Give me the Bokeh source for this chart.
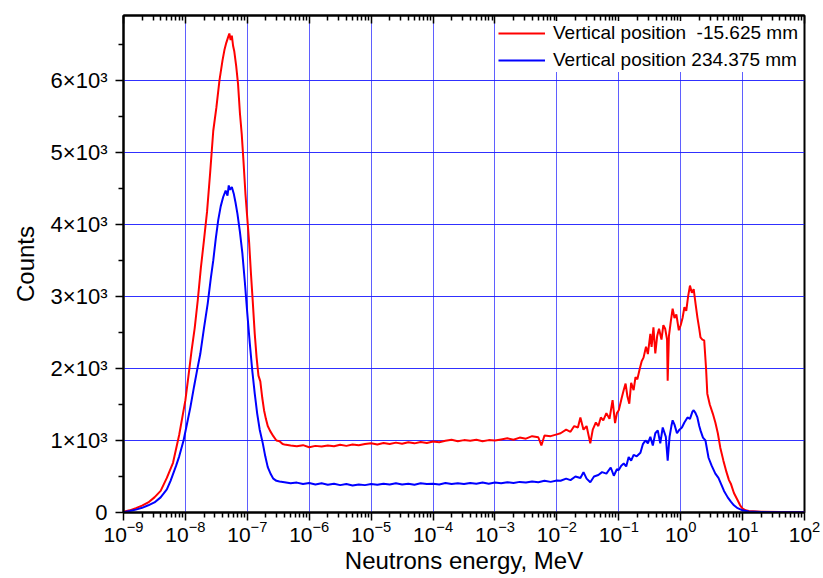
from bokeh.plotting import figure
from bokeh.models import (Range1d, FixedTicker, LogAxis, CustomJSTickFormatter,
                          Legend, LegendItem, ColumnDataSource)
from bokeh.embed import file_html
from bokeh.resources import INLINE

# ---------------- data (log10 of energy in MeV, counts) ----------------
red_log_e = [-9.0, -8.9, -8.8, -8.7, -8.6, -8.5, -8.4, -8.3, -8.2, -8.1, -8.0,
             -7.95, -7.9, -7.85, -7.8, -7.75, -7.7, -7.65, -7.6, -7.55, -7.5,
             -7.45, -7.4, -7.37, -7.34, -7.31, -7.29, -7.27, -7.25, -7.23, -7.21,
             -7.18, -7.15, -7.12, -7.09, -7.06, -7.03, -7.0, -6.97, -6.94, -6.91,
             -6.88, -6.85, -6.82, -6.79, -6.76, -6.73, -6.70, -6.67, -6.63, -6.58,
             -6.53, -6.48, -6.43,
             -6.4, -6.3, -6.2, -6.1, -6.0, -5.9, -5.8, -5.7, -5.6, -5.5, -5.4, -5.3,
             -5.2, -5.1, -5.0, -4.9, -4.8, -4.7, -4.6, -4.5, -4.4, -4.3, -4.2, -4.1,
             -4.0, -3.9, -3.8, -3.7, -3.6, -3.5, -3.4, -3.3, -3.2, -3.1, -3.0, -2.9,
             -2.8, -2.7, -2.6, -2.5, -2.4, -2.3, -2.25, -2.2, -2.1, -2.0,
             -1.94, -1.85, -1.78, -1.72, -1.66, -1.62, -1.57, -1.52, -1.46, -1.42,
             -1.37, -1.33, -1.29, -1.25, -1.2, -1.15, -1.1, -1.06, -1.03, -1.0,
             -0.95, -0.92, -0.89, -0.86, -0.83, -0.80, -0.76, -0.73, -0.70, -0.66,
             -0.63, -0.60, -0.56, -0.53, -0.49, -0.47, -0.44, -0.41, -0.38, -0.35,
             -0.31, -0.28, -0.25, -0.22, -0.21, -0.19, -0.16, -0.13, -0.10, -0.07,
             -0.03, 0.0, 0.03, 0.06, 0.09, 0.12, 0.15, 0.18, 0.21, 0.24,
             0.27, 0.30, 0.32, 0.35, 0.38, 0.41, 0.43, 0.47, 0.52, 0.56,
             0.60, 0.64, 0.69, 0.74, 0.78, 0.81, 0.86, 0.92, 0.96, 1.0,
             1.05, 1.1, 1.3, 1.6, 2.0]
red_counts = [10, 30, 60, 95, 140, 210, 300, 480, 690, 1080, 1560,
              1900, 2250, 2560, 2950, 3400, 3780, 4180, 4720, 5300, 5620,
              6000, 6280, 6420, 6520, 6600, 6650, 6560, 6620, 6480, 6400,
              6200, 5950, 5550, 5250, 4850, 4420, 4080, 3740, 3300, 2900,
              2480, 2150, 1900, 1820, 1600, 1420, 1300, 1200, 1130, 1060,
              1000, 990, 950,
              945, 930, 920, 935, 905, 925, 915, 930, 920, 940, 925, 945,
              935, 950, 960, 945, 965, 950, 970, 955, 975, 960, 980, 965,
              985, 975, 995, 1010, 990, 1005, 995, 1010, 990, 1005, 1000, 1015,
              1030, 1010, 1040, 1025, 1060, 1045, 930, 1070, 1060, 1085,
              1100, 1150, 1120, 1200, 1180, 1320, 1150, 1200, 960, 1150,
              1250, 1200, 1320, 1280, 1380, 1300, 1560, 1240, 1380, 1420,
              1600, 1700, 1790, 1610, 1510, 1800, 1700, 1880, 1850, 2000,
              2100, 2150, 2300, 2200, 2480, 2300, 2570, 2210, 2450, 2550,
              2400, 2600, 2550, 2400, 1830, 2450, 2650, 2830, 2700, 2750,
              2530, 2600, 2700, 2850, 2800, 3000, 3150, 3050, 3100, 2900,
              2710, 2550, 2430, 2400, 2390, 2000, 1650, 1500, 1370, 1250,
              1100, 900, 720, 560, 450, 400, 270, 170, 100, 55,
              30, 20, 12, 8, 5]

blue_log_e = [-9.0, -8.9, -8.8, -8.7, -8.6, -8.5, -8.4, -8.3, -8.24, -8.15, -8.1,
              -8.03, -7.97, -7.92, -7.86, -7.81, -7.76, -7.7, -7.64, -7.59, -7.55,
              -7.51, -7.47, -7.43, -7.39, -7.35, -7.32, -7.30, -7.28, -7.25, -7.22,
              -7.19, -7.16, -7.12, -7.08, -7.04, -7.0, -6.96, -6.92, -6.88, -6.84,
              -6.80, -6.75, -6.71, -6.67, -6.62, -6.58, -6.53, -6.48,
              -6.4, -6.3, -6.2, -6.1, -6.0, -5.9, -5.8, -5.7, -5.6, -5.5, -5.4, -5.3,
              -5.2, -5.1, -5.0, -4.9, -4.8, -4.7, -4.6, -4.5, -4.4, -4.3, -4.2, -4.1,
              -4.0, -3.9, -3.8, -3.7, -3.6, -3.5, -3.4, -3.3, -3.2, -3.1, -3.0, -2.9,
              -2.8, -2.7, -2.6, -2.5, -2.4, -2.3, -2.2, -2.1, -2.0,
              -1.94, -1.85, -1.78, -1.7, -1.62, -1.57, -1.52, -1.46, -1.4, -1.33,
              -1.27, -1.2, -1.13, -1.08, -1.03, -1.0, -0.96, -0.92, -0.88, -0.84,
              -0.80, -0.76, -0.71, -0.65, -0.61, -0.57, -0.53, -0.49, -0.45, -0.41,
              -0.37, -0.33, -0.29, -0.24, -0.21, -0.18, -0.15, -0.13, -0.10, -0.06,
              -0.02, 0.02, 0.06, 0.11, 0.15, 0.19, 0.21, 0.24, 0.27, 0.30,
              0.32, 0.36, 0.40, 0.45, 0.50, 0.56, 0.61, 0.65, 0.70, 0.76,
              0.81, 0.86, 0.92, 1.0, 1.1, 1.3, 1.6, 2.0]
blue_counts = [5, 20, 40, 65, 100, 140, 210, 320, 440, 650, 780,
               1000, 1250, 1460, 1750, 1980, 2200, 2560, 2900, 3250, 3500,
               3800, 4060, 4250, 4380, 4470, 4400, 4540, 4480, 4520, 4430,
               4300, 4150, 3900, 3600, 3200, 2760, 2350, 1970, 1650, 1370,
               1150, 960, 780, 630, 530, 470, 440, 430,
               420, 405, 415, 395, 410, 390, 405, 385, 400, 380, 395, 375,
               390, 380, 395, 385, 400, 390, 405, 390, 400, 385, 405, 395,
               400, 390, 410, 395, 405, 395, 410, 400, 415, 400, 415, 405,
               420, 410, 425, 415, 430, 420, 440, 425, 445,
               440, 470, 450, 500, 480, 560, 470, 420, 500, 520,
               560, 540, 625, 510, 600, 590, 650, 680, 640, 770,
               720, 800, 780, 830, 950, 1000, 960, 1050, 930, 1100,
               1140, 960, 1180, 1050, 720, 1050, 1200, 1280, 1220, 1100,
               1150, 1180, 1250, 1320, 1300, 1400, 1420, 1380, 1320, 1200,
               1140, 1040, 1000, 760, 650, 540, 480, 400, 300, 210,
               150, 100, 60, 30, 15, 8, 5, 3]

x_major_exponents = list(range(-9, 3))
y_major_ticks = [0, 1000, 2000, 3000, 4000, 5000, 6000]
y_minor_ticks = [500, 1500, 2500, 3500, 4500, 5500, 6500]
series_labels = ["Vertical position  -15.625 mm", "Vertical position 234.375 mm"]
x_title = "Neutrons energy, MeV"
y_title = "Counts"

# ---------------- figure ----------------
FONT = "Liberation Sans"

p = figure(width=823, height=578, x_axis_type="log",
           x_range=Range1d(1e-9, 1e2), y_range=Range1d(0, 6900),
           output_backend="svg", toolbar_location=None,
           min_border_left=123, min_border_right=19, min_border_top=15,
           min_border_bottom=66)
p.background_fill_color = "white"
p.border_fill_color = "white"
p.outline_line_color = "black"
p.outline_line_width = 2

x_major = [10.0 ** e for e in x_major_exponents]
x_minor = [m * 10.0 ** e for e in x_major_exponents[:-1] for m in range(2, 10)]
xticker = FixedTicker(ticks=x_major, minor_ticks=x_minor)

xa = p.xaxis[0]
xa.ticker = xticker
xa.axis_label = x_title
ya = p.yaxis[0]
ya.ticker = FixedTicker(ticks=y_major_ticks, minor_ticks=y_minor_ticks)
ya.formatter = CustomJSTickFormatter(
    code="return tick == 0 ? '0' : (tick/1000).toFixed(0) + '\u00d710\u00b3';")
ya.axis_label = y_title

for ax in (xa, ya):
    ax.axis_line_color = "black"
    ax.axis_line_width = 2
    ax.major_tick_line_color = "black"
    ax.minor_tick_line_color = "black"
    ax.major_tick_line_width = 1.5
    ax.minor_tick_line_width = 1.5
    ax.major_tick_in = 0
    ax.major_tick_out = 8
    ax.minor_tick_in = 0
    ax.minor_tick_out = 5
    ax.major_label_text_font = FONT
    ax.major_label_text_color = "black"
    ax.axis_label_text_font = FONT
    ax.axis_label_text_font_size = "24px"
    ax.axis_label_text_font_style = "normal"
    ax.axis_label_text_color = "black"
xa.major_label_text_font_size = "21px"
ya.major_label_text_font_size = "22px"
xa.major_label_standoff = 0
xa.axis_label_standoff = 2
ya.major_label_standoff = 8
ya.axis_label_standoff = 9

top = LogAxis(ticker=xticker, formatter=CustomJSTickFormatter(code="return '';"),
              axis_line_color="black", axis_line_width=2,
              major_tick_in=8, major_tick_out=0, minor_tick_in=5, minor_tick_out=0,
              major_tick_line_color="black", minor_tick_line_color="black",
              major_tick_line_width=1.5, minor_tick_line_width=1.5,
              major_label_standoff=0, major_label_text_font_size="1px")
p.add_layout(top, "above")

p.xgrid.grid_line_color = "#2a2aff"
p.xgrid.grid_line_alpha = 0.75
p.ygrid.grid_line_color = "#1a1aff"
p.ygrid.grid_line_alpha = 0.9
p.xgrid.grid_line_width = 1
p.ygrid.grid_line_width = 1

red_src = ColumnDataSource(dict(x=[10.0 ** v for v in red_log_e], y=red_counts))
blue_src = ColumnDataSource(dict(x=[10.0 ** v for v in blue_log_e], y=blue_counts))
r_red = p.line("x", "y", source=red_src, line_color="#ff0000", line_width=2)
r_blue = p.line("x", "y", source=blue_src, line_color="#0000ff", line_width=2)

legend = Legend(items=[LegendItem(label=series_labels[0], renderers=[r_red]),
                       LegendItem(label=series_labels[1], renderers=[r_blue])],
                location="top_right", border_line_color=None,
                background_fill_color="white", background_fill_alpha=1,
                label_text_font=FONT, label_text_font_size="19px",
                label_text_color="black",
                glyph_width=47, glyph_height=24, label_standoff=8,
                spacing=3, padding=4, margin=6,
                label_height=24)
p.add_layout(legend)

open("out.html", "w").write(file_html(p, INLINE))
